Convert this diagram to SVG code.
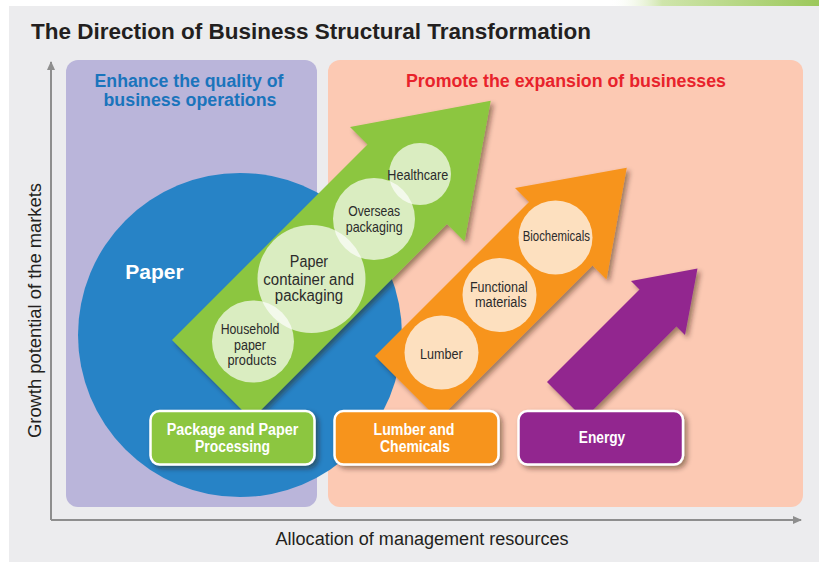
<svg xmlns="http://www.w3.org/2000/svg" width="819" height="563" viewBox="0 0 819 563">
  <style>
    .title { font-family: "Liberation Sans", Arial, sans-serif; font-weight: bold; fill: #231f20; }
    .axis-label { font-family: "Liberation Sans", Arial, sans-serif; font-size: 18px; fill: #231f20; }
    .heading { font-family: "Liberation Sans", Arial, sans-serif; font-weight: bold; font-size: 17.5px; text-anchor: middle; }
    .bubble { font-family: "Liberation Sans", Arial, sans-serif; fill: #2b2b2b; text-anchor: middle; }
    .box-text { font-family: "Liberation Sans", Arial, sans-serif; font-weight: bold; font-size: 16px; fill: #ffffff; text-anchor: middle; }
    .box { stroke: #ffffff; stroke-width: 2.5; }
    .axis { stroke: #8e8e8e; stroke-width: 2; fill: none; }
    .green-bubble { fill: #ffffff; fill-opacity: 0.68; }
    .orange-bubble { fill: #fde0bf; }
  </style>
  <defs>
    <filter id="shadow" x="-20%" y="-20%" width="150%" height="150%">
      <feDropShadow dx="3" dy="3" stdDeviation="2.5" flood-color="#2a1a10" flood-opacity="0.45"/>
    </filter>
    <linearGradient id="leaf" x1="0" y1="0" x2="1" y2="0">
      <stop offset="0" stop-color="#ffffff" stop-opacity="0"/>
      <stop offset="0.25" stop-color="#cfe5ab"/>
      <stop offset="1" stop-color="#9cc85b"/>
    </linearGradient>
    <marker id="axis-head" markerWidth="10" markerHeight="10" refX="8" refY="5" orient="auto" markerUnits="userSpaceOnUse">
      <path d="M0,1 L9,5 L0,9 Z" fill="#8e8e8e"/>
    </marker>
  </defs>

  <!-- page -->
  <rect x="0" y="0" width="819" height="563" fill="#ffffff"/>
  <rect x="610" y="0" width="209" height="6" fill="url(#leaf)"/>
  <rect x="9" y="6" width="810" height="556" fill="#ececee"/>

  <text class="title" x="31" y="39" font-size="22" textLength="560" lengthAdjust="spacingAndGlyphs">The Direction of Business Structural Transformation</text>

  <!-- background zones -->
  <g id="zone-quality">
    <rect x="66" y="60" width="251" height="447" rx="12" fill="#bab5da"/>
    <text class="heading" fill="#1a74bc" x="189" y="87" textLength="189" lengthAdjust="spacingAndGlyphs">Enhance the quality of</text>
    <text class="heading" fill="#1a74bc" x="190" y="105.5" textLength="173" lengthAdjust="spacingAndGlyphs">business operations</text>
  </g>
  <g id="zone-expansion">
    <rect x="328" y="60" width="475" height="447" rx="12" fill="#fcc9b3"/>
    <text class="heading" fill="#e8222b" x="566" y="87" textLength="320" lengthAdjust="spacingAndGlyphs">Promote the expansion of businesses</text>
  </g>

  <!-- axes -->
  <g id="connectors">
    <path class="axis" d="M51,520 L51,62" marker-end="url(#axis-head)"/>
    <path class="axis" d="M51,520 L801,520" marker-end="url(#axis-head)"/>
  </g>
  <text class="axis-label" transform="translate(41,310.5) rotate(-90)" text-anchor="middle" textLength="255" lengthAdjust="spacingAndGlyphs">Growth potential of the markets</text>
  <text class="axis-label" x="422" y="545" text-anchor="middle" textLength="293" lengthAdjust="spacingAndGlyphs">Allocation of management resources</text>

  <!-- paper core business -->
  <g id="paper">
    <circle cx="240" cy="335" r="162" fill="#2783c6"/>
    <text x="154.5" y="279" font-family="'Liberation Sans', Arial, sans-serif" font-weight="bold" font-size="21" fill="#ffffff" text-anchor="middle">Paper</text>
  </g>

  <!-- green growth arrow -->
  <g id="arrow-package">
    <polygon points="172,340 367.5,144.5 350,127 490.75,100.75 464.5,241.5 447,224 251.5,419.5" fill="#8cc63f" filter="url(#shadow)"/>
    <circle class="green-bubble" cx="253" cy="341.5" r="41"/>
    <circle class="green-bubble" cx="311.5" cy="279" r="54"/>
    <circle class="green-bubble" cx="374" cy="219" r="41"/>
    <circle class="green-bubble" cx="420" cy="174" r="31"/>
    <text class="bubble" font-size="14" x="250" y="334" textLength="58.7" lengthAdjust="spacingAndGlyphs">Household</text>
    <text class="bubble" font-size="14" x="250" y="349.5" textLength="32" lengthAdjust="spacingAndGlyphs">paper</text>
    <text class="bubble" font-size="14" x="252" y="365" textLength="49" lengthAdjust="spacingAndGlyphs">products</text>
    <text class="bubble" font-size="16" x="309" y="267" textLength="38.3" lengthAdjust="spacingAndGlyphs">Paper</text>
    <text class="bubble" font-size="16" x="308.7" y="284.5" textLength="90.7" lengthAdjust="spacingAndGlyphs">container and</text>
    <text class="bubble" font-size="16" x="309" y="300.5" textLength="68.3" lengthAdjust="spacingAndGlyphs">packaging</text>
    <text class="bubble" font-size="15" x="374.2" y="216" textLength="52" lengthAdjust="spacingAndGlyphs">Overseas</text>
    <text class="bubble" font-size="15" x="374.2" y="231.5" textLength="57" lengthAdjust="spacingAndGlyphs">packaging</text>
    <text class="bubble" font-size="15" x="417.8" y="180" textLength="61" lengthAdjust="spacingAndGlyphs">Healthcare</text>
  </g>

  <!-- orange growth arrow -->
  <g id="arrow-lumber">
    <polygon points="375,356 529,202 515,188 626.75,167.75 606.5,279.5 592.5,265.5 438.5,419.5" fill="#f7941d" filter="url(#shadow)"/>
    <circle class="orange-bubble" cx="441.5" cy="352.5" r="37"/>
    <circle class="orange-bubble" cx="499.5" cy="295" r="37"/>
    <circle class="orange-bubble" cx="555.5" cy="237.5" r="37"/>
    <text class="bubble" font-size="14" x="441.3" y="359" textLength="42.7" lengthAdjust="spacingAndGlyphs">Lumber</text>
    <text class="bubble" font-size="14" x="498.8" y="291.5" textLength="57.7" lengthAdjust="spacingAndGlyphs">Functional</text>
    <text class="bubble" font-size="14" x="500.8" y="307.3" textLength="51.7" lengthAdjust="spacingAndGlyphs">materials</text>
    <text class="bubble" font-size="14" x="556.3" y="241" textLength="67.3" lengthAdjust="spacingAndGlyphs">Biochemicals</text>
  </g>

  <!-- purple growth arrow -->
  <g id="arrow-energy">
    <polygon points="547,382 639.5,289.5 631,281 697.5,268.5 685,335 676.5,326.5 584,419" fill="#92278f" filter="url(#shadow)"/>
  </g>

  <!-- business segment boxes -->
  <g id="box-package">
    <rect class="box" x="150.5" y="411" width="164" height="53.5" rx="9" fill="#8cc63f" filter="url(#shadow)"/>
    <text class="box-text" x="232.5" y="435" textLength="131.7" lengthAdjust="spacingAndGlyphs">Package and Paper</text>
    <text class="box-text" x="232.5" y="451.7" textLength="75" lengthAdjust="spacingAndGlyphs">Processing</text>
  </g>
  <g id="box-lumber">
    <rect class="box" x="334.5" y="411" width="164" height="53.5" rx="9" fill="#f7941d" filter="url(#shadow)"/>
    <text class="box-text" x="414" y="435" textLength="81" lengthAdjust="spacingAndGlyphs">Lumber and</text>
    <text class="box-text" x="415" y="451.5" textLength="70" lengthAdjust="spacingAndGlyphs">Chemicals</text>
  </g>
  <g id="box-energy">
    <rect class="box" x="518.5" y="411" width="164.5" height="53.5" rx="9" fill="#92278f" filter="url(#shadow)"/>
    <text class="box-text" x="602" y="443.3" textLength="46.5" lengthAdjust="spacingAndGlyphs">Energy</text>
  </g>
</svg>
